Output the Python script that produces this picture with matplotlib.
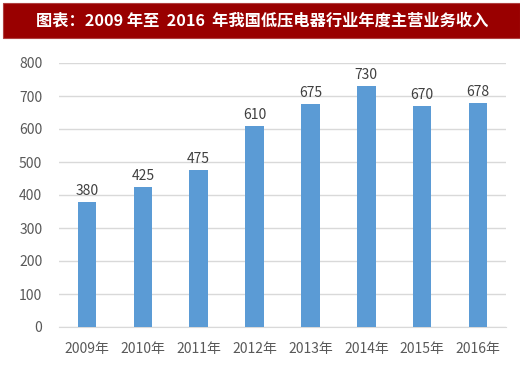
import matplotlib
matplotlib.use("Agg")
import matplotlib.pyplot as plt
from matplotlib.patches import Rectangle

plt.rcParams['font.family'] = ['Noto Sans CJK SC', 'DejaVu Sans']

title = "图表：2009 年至  2016  年我国低压电器行业年度主营业务收入"
years = ["2009年", "2010年", "2011年", "2012年", "2013年", "2014年", "2015年", "2016年"]
values = [380, 425, 475, 610, 675, 730, 670, 678]
yticks = [0, 100, 200, 300, 400, 500, 600, 700, 800]

fig = plt.figure(figsize=(5.2, 3.68), dpi=100)
fig.patch.set_facecolor("white")

# title bar
fig.patches.append(Rectangle((3/520, 1-38/368), 517/520, 35/368, transform=fig.transFigure,
                             facecolor="#990000", edgecolor="#b04040", lw=0.8, zorder=0))
fig.text(0.505, 1-20.5/368, title, color="white", fontsize=11.7, fontweight="bold",
         ha="center", va="center")

ax = fig.add_axes([59/520, 1-327/368, 447/520, 264/368])
x = list(range(len(years)))
ax.bar(x, values, width=0.33, color="#5B9BD5", zorder=3)
for xi, v in zip(x, values):
    ax.text(xi, v + 12, str(v), ha="center", va="bottom", fontsize=10, color="#404040")

ax.set_ylim(0, 800)
ax.set_xlim(-0.5, len(years) - 0.5)
ax.set_yticks(yticks)
ax.set_xticks(x)
ax.set_xticklabels(years)
ax.yaxis.grid(True, color="#D9D9D9", lw=1, zorder=0)
ax.set_axisbelow(True)
for s in ["top", "right", "left"]:
    ax.spines[s].set_visible(False)
ax.spines["bottom"].set_color("#D9D9D9")
ax.tick_params(axis="both", length=0, labelsize=10, colors="#595959")
ax.tick_params(axis="y", pad=12)
ax.tick_params(axis="x", pad=11)

fig.savefig("out.png", dpi=100)
